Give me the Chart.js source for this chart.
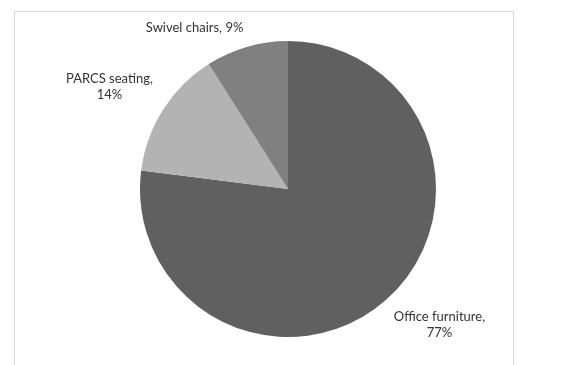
<!DOCTYPE html>
<html>
<head>
<meta charset="utf-8">
<script src="https://cdn.jsdelivr.net/npm/chart.js@4"></script>
<style>
  html,body{margin:0;padding:0;background:#fff;}
  #wrap{position:relative;width:569px;height:365px;overflow:hidden;}
  #frame{position:absolute;left:14px;top:11px;width:500px;height:400px;border:1px solid #d9d9d9;box-sizing:border-box;}
  canvas{position:absolute;left:0;top:0;}
</style>
</head>
<body>
<div id="wrap">
  <div id="frame"></div>
  <canvas id="c" width="569" height="365"></canvas>
</div>
<script>
/* ---------- data ---------- */
const categories = ['Office furniture', 'PARCS seating', 'Swivel chairs'];
const shares     = [77, 14, 9];
const colours    = ['#606060', '#b3b3b3', '#808080'];

/* ---------- outside labels, placed from the arc geometry ---------- */
const outsideLabels = {
  id: 'outsideLabels',
  afterDatasetsDraw(chart){
    const ctx = chart.ctx;
    const arcs = chart.getDatasetMeta(0).data;
    ctx.save();
    ctx.font = '13px Lato, "Open Sans", sans-serif';
    ctx.fillStyle = '#333';
    ctx.textBaseline = 'middle';
    ctx.textAlign = 'center';
    const lh = 16;
    arcs.forEach((arc, i) => {
      const mid = (arc.startAngle + arc.endAngle) / 2;
      const r = arc.outerRadius + 12;
      const ax = arc.x + Math.cos(mid) * r, ay = arc.y + Math.sin(mid) * r;
      // one or two lines depending on slice
      const lines = i === 2
        ? [categories[i] + ', ' + shares[i] + '%']
        : [categories[i] + ',', shares[i] + '%'];
      const w = Math.max(...lines.map(t => ctx.measureText(t).width));
      const h = lines.length * lh;
      const cx = Math.cos(mid) >= 0 ? ax + w / 2 : ax - w / 2;
      const top = Math.sin(mid) >= 0 ? ay : ay - h;
      lines.forEach((t, k) => ctx.fillText(t, cx, top + lh / 2 + k * lh));
    });
    ctx.restore();
  }
};

new Chart(document.getElementById('c'), {
  type: 'pie',
  data: {
    labels: categories,
    datasets: [{ data: shares, backgroundColor: colours, borderWidth: 0 }]
  },
  options: {
    responsive: false,
    animation: false,
    layout: { padding: { top: 41, bottom: 28, left: 140, right: 133 } },
    plugins: { legend: { display: false }, tooltip: { enabled: false } }
  },
  plugins: [outsideLabels]
});
</script>
</body>
</html>
